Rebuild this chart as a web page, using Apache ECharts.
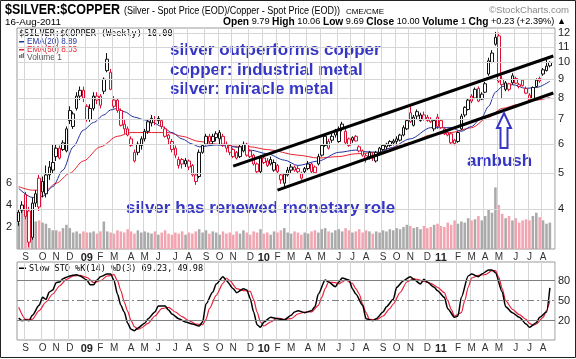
<!DOCTYPE html>
<html><head><meta charset="utf-8">
<script src="https://cdn.jsdelivr.net/npm/echarts@6/dist/echarts.min.js"></script>
<style>html,body{margin:0;padding:0;background:#fff}#c{width:576px;height:359px}</style>
</head><body><div id="c"></div><script>
// ---------- data ----------
const firstWeek = '2008-08-18';
const opens = [3.70,3.97,4.38,3.95,3.35,4.15,4.85,4.75,4.40,4.95,5.10,5.85,5.85,6.05,5.75,7.40,6.70,7.50,8.10,8.40,
7.60,7.00,7.50,8.10,8.10,8.35,9.50,9.40,7.60,7.90,7.40,6.80,6.60,6.20,5.70,5.70,5.95,6.20,6.50,6.85,
7.00,6.95,6.95,6.60,6.35,6.10,5.85,5.25,5.45,5.30,5.40,5.25,4.95,4.90,5.70,6.00,6.30,6.10,6.25,6.20,
6.30,6.00,5.95,5.80,5.70,5.55,5.75,6.00,5.75,5.60,5.30,5.05,5.50,5.40,5.45,5.10,5.25,4.80,4.70,4.95,
5.10,5.20,5.15,4.85,5.05,5.15,5.30,5.20,5.30,5.60,5.95,5.85,6.15,6.55,6.10,6.60,6.50,6.20,6.25,6.30,
5.90,5.75,5.45,5.55,5.60,5.40,5.70,5.80,5.90,5.95,6.05,6.10,6.15,6.35,6.60,7.30,6.75,7.35,6.95,7.20,
7.10,7.00,6.60,7.10,6.95,6.40,6.35,6.40,6.15,6.10,6.60,7.20,7.45,8.10,8.00,8.50,7.95,8.30,9.30,10.00,
11.20,11.80,9.00,8.45,8.75,9.20,9.05,8.60,8.95,8.50,8.15,7.95,8.60,9.05,9.55,9.50,9.79];
const highs = [4.00,4.20,4.45,4.05,4.30,4.50,4.95,4.90,5.25,5.40,6.00,6.00,5.95,6.15,6.70,7.60,7.35,8.30,8.60,8.60,
7.70,7.70,8.30,8.30,8.20,9.10,10.60,9.60,8.10,8.00,7.50,7.00,6.70,6.30,5.80,6.10,6.30,6.60,7.00,7.20,
7.15,7.15,7.00,6.70,6.40,6.20,5.95,5.55,5.50,5.50,5.45,5.30,5.00,5.80,6.00,6.40,6.40,6.40,6.50,6.55,
6.40,6.10,6.00,5.85,5.75,6.00,6.10,6.05,5.80,5.65,5.35,5.60,5.60,5.50,5.55,5.45,5.30,5.00,5.00,5.20,
5.30,5.25,5.25,5.05,5.20,5.40,5.35,5.25,5.65,6.00,6.40,6.20,6.40,6.60,6.70,6.90,6.60,6.25,6.30,6.35,
5.95,5.80,5.65,5.75,5.70,5.75,5.90,6.00,6.05,6.15,6.20,6.30,6.40,6.75,7.00,7.60,7.20,7.45,7.30,7.35,
7.20,7.10,7.00,7.25,7.00,6.65,6.50,6.45,6.20,6.50,7.25,7.60,8.00,8.20,8.55,8.60,8.30,8.85,10.30,10.80,
12.10,12.05,9.20,8.90,8.80,9.35,9.15,8.80,9.00,8.60,8.25,8.60,9.05,9.15,9.65,10.15,10.06];
const lows = [3.60,3.90,3.75,3.15,3.30,4.05,3.95,4.30,4.30,4.80,5.00,5.40,5.45,5.75,5.70,6.80,6.60,7.40,7.90,7.80,
6.90,6.90,7.40,7.70,7.50,8.20,9.40,8.40,7.50,7.30,6.70,6.40,6.30,5.90,5.35,5.60,5.80,6.10,6.40,6.70,
6.75,6.80,6.60,6.25,6.00,5.70,5.50,5.15,5.15,5.20,5.10,4.90,4.65,4.85,5.65,5.95,6.00,6.00,6.10,6.00,
5.90,5.70,5.60,5.50,5.45,5.50,5.70,5.55,5.50,5.25,5.00,5.00,5.30,5.20,5.25,5.05,5.00,4.68,4.60,4.90,
5.00,5.05,5.00,4.80,5.00,5.10,5.00,4.98,5.25,5.55,5.90,5.80,6.05,6.25,6.05,6.50,6.00,5.90,6.05,6.10,
5.70,5.55,5.35,5.45,5.40,5.35,5.60,5.75,5.80,5.90,5.95,6.00,6.10,6.30,6.55,6.85,6.70,7.00,6.90,6.95,
6.90,6.85,6.50,6.60,6.60,6.35,6.30,6.00,5.95,6.05,6.55,7.10,7.40,7.75,7.95,7.80,7.90,8.25,9.20,9.95,
11.10,8.80,7.95,8.35,8.35,8.70,8.75,8.50,8.60,8.20,7.80,7.90,8.55,8.80,9.20,9.45,9.69];
const closes = [3.92,4.10,3.82,3.25,4.15,4.40,4.05,4.45,4.95,5.20,5.35,5.55,5.50,5.80,6.60,6.95,7.25,8.10,8.40,8.00,
7.00,7.50,8.10,7.90,7.65,9.00,10.20,8.45,7.90,7.40,6.75,6.60,6.35,5.95,5.40,6.00,6.20,6.50,6.90,7.05,
6.98,7.05,6.70,6.30,6.20,5.80,5.60,5.45,5.30,5.42,5.20,4.95,4.75,5.70,5.95,6.30,6.10,6.30,6.40,6.45,
6.00,5.85,5.70,5.55,5.50,5.90,6.00,5.60,5.55,5.30,5.05,5.50,5.35,5.25,5.30,5.35,5.05,4.95,4.97,5.10,
5.20,5.10,5.05,5.00,5.15,5.30,5.05,5.02,5.55,5.95,6.30,6.10,6.30,6.35,6.60,6.80,6.05,5.95,6.15,6.12,
5.75,5.60,5.58,5.70,5.50,5.70,5.85,5.95,6.00,6.10,6.12,6.20,6.35,6.65,6.95,6.90,7.10,7.15,7.20,7.00,
6.95,6.90,6.95,6.70,6.65,6.60,6.45,6.05,6.02,6.45,7.15,7.55,7.90,7.85,8.45,7.85,8.20,8.75,10.10,10.60,
11.70,8.90,8.70,8.80,8.45,8.80,8.78,8.70,8.65,8.25,7.90,8.55,8.95,8.90,9.30,9.77,10.00];
const volumes = [2.4,3.5,3.1,2.9,2.6,2.5,2.6,2.4,2.3,1.9,1.7,
1.7,1.6,1.9,2.2,1.9,1.5,1.6,1.4,1.6,1.5,
1.5,1.6,1.4,1.6,2.5,1.6,1.5,1.4,1.7,1.6,
1.5,1.8,1.6,1.4,1.7,1.5,1.6,1.5,1.4,1.6,
1.3,1.5,1.7,1.4,1.3,1.5,1.4,1.6,1.3,1.5,
1.4,1.6,1.8,1.5,1.7,1.4,1.6,1.5,1.3,1.6,
1.4,1.5,1.3,1.6,1.4,1.7,1.5,1.3,1.6,1.5,
1.8,1.4,1.5,1.3,1.6,1.5,1.7,1.9,1.5,1.4,
1.6,1.5,1.3,1.5,1.4,1.6,1.7,1.5,1.8,1.9,
1.6,1.5,1.7,1.8,1.6,1.9,1.7,1.5,1.6,1.8,
1.5,1.7,1.6,1.4,1.6,1.5,1.7,1.6,1.8,1.7,
1.9,1.8,2.0,2.2,2.1,1.9,2.0,1.8,2.1,1.9,
2.0,2.2,2.3,2.1,2.0,2.4,2.2,2.6,2.3,2.5,
2.4,2.8,2.6,2.7,3.0,2.6,3.0,3.6,3.3,5.6,
4.0,3.2,2.8,3.0,2.6,2.8,2.4,2.6,2.7,2.6,
3.0,3.3,2.9,2.6,2.3,2.4];
const ema20Weeks = [0,4,7,10,13,16,19,22,25,27,29,31,34,37,39,42,45,48,51,53,58,63,68,73,78,82,88,94,99,102,106,109,115,121,127,130,133,136,138,140,142,145,149,152,156];
const ema20Values = [4.55,4.30,4.33,4.60,5.10,5.90,6.55,6.87,7.20,7.43,7.50,7.35,7.10,6.98,6.90,6.70,6.45,6.20,6.00,5.90,5.97,5.90,5.78,5.65,5.43,5.25,5.40,5.70,5.78,5.72,5.70,5.85,6.20,6.65,6.65,6.50,6.70,7.10,7.60,8.30,8.60,8.70,8.50,8.55,8.89];
const ema50Weeks = [0,4,8,11,15,19,24,29,33,37,41,44,48,53,58,63,68,73,82,88,94,99,106,109,115,121,127,133,138,142,147,152,156];
const ema50Values = [4.60,4.50,4.50,4.70,5.00,5.40,5.90,6.30,6.45,6.45,6.45,6.45,6.30,6.10,6.00,5.92,5.90,5.80,5.60,5.50,5.55,5.65,5.70,5.85,6.05,6.35,6.45,6.65,7.10,7.50,7.70,7.90,8.03];
const stoKWeeks = [0,1,2,3,4,6,7,8,9,10,11,12,13,14,15,17,18,20,21,22,23,24,26,27,28,29,30,31,32,33,34,35,37,38,40,41,43,44,45,47,49,51,53,54,55,57,58,60,61,63,64,66,67,68,69,70,71,72,74,76,78,80,81,82,84,86,87,88,90,91,93,94,95,97,98,99,101,102,104,105,107,108,110,111,113,115,116,118,119,120,122,123,125,126,128,129,130,132,133,135,136,138,139,140,142,143,145,147,149,150,152,153,155,156];
const stoKValues = [24,20,21,20,28,43,55,52,63,66,77,78,83,85,87,89,87,81,74,74,81,86,90,90,80,60,43,33,16,7,5,9,16,23,33,42,42,36,30,23,18,15,12,18,45,63,75,86,80,68,62,68,66,53,33,14,10,18,25,23,21,28,33,35,32,35,41,60,81,78,71,78,84,81,68,60,43,23,20,23,33,41,52,70,80,86,82,75,82,78,70,65,55,38,25,27,55,87,90,86,90,96,96,92,63,41,32,25,15,10,17,25,33,69.23];
const stoDWeeks = [0,2,4,6,8,10,12,14,16,18,20,22,24,26,28,29,30,31,32,33,34,35,36,38,40,42,44,46,48,50,52,54,55,56,58,60,61,62,64,66,68,69,70,71,72,74,76,78,80,82,84,86,88,89,90,91,93,94,95,96,98,99,100,101,102,103,105,107,109,110,112,114,116,117,119,121,123,125,126,127,128,130,131,132,133,135,137,139,140,141,142,143,145,147,149,150,151,152,154,155,156];
const stoDValues = [40,22,22,35,48,60,72,82,87,88,85,77,80,87,89,80,65,48,34,20,11,7,9,16,27,38,40,33,26,20,15,14,22,38,58,76,84,80,68,65,64,52,33,18,12,18,24,22,23,30,33,33,43,55,68,78,77,75,78,81,76,68,60,45,32,22,21,27,38,45,62,78,83,82,79,76,70,62,50,37,27,32,50,70,84,88,89,95,95,85,68,50,37,29,22,16,13,15,25,35,49.98];
const upperChannel = [[62.9, 5.23], [157, 10.41]];
const lowerChannel = [[75.6, 4.50], [157, 8.26]];
const priceTicks = [4,5,6,7,8,9,10,11,12];
const volumeTicks = [2,4,6];
const stoLevels = [80,50,20];

// ---------- build ----------
const NCAT = closes.length + 1;
const cats = [];
const t0 = Date.parse(firstWeek + 'T00:00:00Z');
for (let i = 0; i < NCAT; i++) cats.push(new Date(t0 + i * 7 * 864e5).toISOString().slice(0, 10));
const isMonthStart = (i) => i > 0 && cats[i].slice(5, 7) !== cats[i - 1].slice(5, 7);
const ML = 'JFMAMJJASOND';
const monthFmt = (v) => { const m = +v.slice(5, 7); return m === 1 ? '{y|' + v.slice(2, 4) + '}' : ML[m - 1]; };
const RED = '#dd1133', BLK = '#111';
const isUp = (i) => i === 0 ? closes[i] >= opens[i] : closes[i] >= closes[i - 1];
const candleData = closes.map((c, i) => {
  const col = isUp(i) ? BLK : RED;
  return { value: [opens[i], c, lows[i], highs[i]], itemStyle: { color: '#fff', color0: col, borderColor: col, borderColor0: col } };
});
const volData = volumes.map((v, i) => ({ value: v, itemStyle: { color: isUp(i) ? '#aaaaaa' : '#f2a5b0' } }));
const pairs = (xs, ys) => xs.map((x, i) => [x, ys[i]]);

const L = 17, R = 555, W = R - L;
const mainTop = 28, mainBot = 249;
const pxPerLn = 160;
const priceMax = 4 * Math.exp((209 - mainTop) / pxPerLn);
const priceMin = 4 * Math.exp((209 - mainBot) / pxPerLn);
const stoTop = 262, stoBot = 340;

const SANS = "'Liberation Sans',Arial,sans-serif";
const MONO = "'DejaVu Sans Mono','Liberation Mono',monospace";
const BLUE = '#3636c4';
const monthAxisLabel = {
  interval: (i) => isMonthStart(i), formatter: monthFmt, color: '#333', fontSize: 10,
  fontFamily: SANS, margin: 3,
  rich: { y: { fontWeight: 'bold', fontSize: 11, color: '#222', fontFamily: SANS } }
};
const monthSplit = { show: true, interval: (i) => isMonthStart(i), lineStyle: { color: '#d6d6d6', width: 1 } };

// text squeezed horizontally to a given width (narrow header font)
function fitText(txt, font, x, y, w, fill, rich) {
  const probe = new echarts.graphic.Text({ style: { text: txt, font: font, rich: rich } });
  const bw = probe.getBoundingRect().width || w;
  return { type: 'text', x: x, y: y, scaleX: w / bw, silent: true, style: { text: txt, font: font, fill: fill, rich: rich, verticalAlign: 'top', align: 'left' } };
}

const hLine = (v, extra) => Object.assign({ yAxis: v }, extra || {});
const option = {
  animation: false,
  backgroundColor: '#fff',
  grid: [
    { left: L, top: mainTop, width: W, height: mainBot - mainTop, show: true, borderColor: '#999', borderWidth: 1 },
    { left: L, top: stoTop, width: W, height: stoBot - stoTop, show: true, borderColor: '#999', borderWidth: 1 }
  ],
  xAxis: [
    { type: 'category', gridIndex: 0, data: cats, boundaryGap: true, axisLine: { show: false }, axisTick: { show: false }, axisLabel: monthAxisLabel, splitLine: monthSplit },
    { type: 'category', gridIndex: 1, data: cats, boundaryGap: true, axisLine: { show: false }, axisTick: { show: false }, axisLabel: monthAxisLabel, splitLine: monthSplit }
  ],
  yAxis: [
    { type: 'log', gridIndex: 0, min: priceMin, max: priceMax, position: 'right', axisLine: { show: false }, axisTick: { show: false }, axisLabel: { show: false }, splitLine: { show: false } },
    { type: 'value', gridIndex: 0, min: 0, max: (mainBot - mainTop) / 11, interval: 2, position: 'left', axisLine: { show: false }, axisTick: { show: false }, splitLine: { show: false },
      axisLabel: { margin: 5, fontSize: 11, color: '#222', fontFamily: SANS, formatter: (v) => volumeTicks.includes(v) ? String(v) : '' } },
    { type: 'value', gridIndex: 1, min: -9, max: 108, position: 'right', axisLine: { show: false }, axisTick: { show: false }, axisLabel: { show: false }, splitLine: { show: false } }
  ],
  series: [
    { type: 'line', xAxisIndex: 0, yAxisIndex: 0, data: [], silent: true, z: 1,
      markLine: { silent: true, symbol: 'none', animation: false,
        lineStyle: { color: '#d6d6d6', type: 'solid', width: 1 },
        label: { position: 'end', distance: 3, color: '#222', fontSize: 11, fontFamily: SANS, formatter: (p) => String(p.value) },
        data: priceTicks.map((v) => hLine(v)) } },
    { type: 'bar', xAxisIndex: 0, yAxisIndex: 1, data: volData, barWidth: '75%', z: 2, silent: true },
    { type: 'line', xAxisIndex: 0, yAxisIndex: 0, data: pairs(ema50Weeks, ema50Values), symbol: 'none', smooth: 0.3, smoothMonotone: 'x', lineStyle: { color: '#e8232f', width: 1 }, z: 3 },
    { type: 'line', xAxisIndex: 0, yAxisIndex: 0, data: pairs(ema20Weeks, ema20Values), symbol: 'none', smooth: 0.3, smoothMonotone: 'x', lineStyle: { color: '#2233a0', width: 1 }, z: 3 },
    { type: 'candlestick', xAxisIndex: 0, yAxisIndex: 0, data: candleData, barWidth: 3, z: 4 },
    { type: 'line', xAxisIndex: 0, yAxisIndex: 0, data: upperChannel, symbol: 'none', lineStyle: { color: '#000', width: 3 }, z: 5 },
    { type: 'line', xAxisIndex: 0, yAxisIndex: 0, data: lowerChannel, symbol: 'none', lineStyle: { color: '#000', width: 3 }, z: 5 },
    { type: 'line', xAxisIndex: 1, yAxisIndex: 2, data: [], silent: true, z: 1,
      markLine: { silent: true, symbol: 'none', animation: false,
        label: { position: 'end', distance: 3, color: '#222', fontSize: 11, fontFamily: SANS, formatter: (p) => String(p.value) },
        data: [
          hLine(stoLevels[0], { lineStyle: { color: '#808080', width: 1, type: 'solid' } }),
          hLine(stoLevels[1], { lineStyle: { color: '#808080', width: 1, type: [7, 3, 2, 3] } }),
          hLine(stoLevels[2], { lineStyle: { color: '#808080', width: 1, type: 'solid' } })
        ] } },
    { type: 'line', xAxisIndex: 1, yAxisIndex: 2, data: pairs(stoDWeeks, stoDValues), symbol: 'none', smooth: 0.25, smoothMonotone: 'x', lineStyle: { color: '#e8233c', width: 1.2 }, z: 3 },
    { type: 'line', xAxisIndex: 1, yAxisIndex: 2, data: pairs(stoKWeeks, stoKValues), symbol: 'none', smooth: 0.25, smoothMonotone: 'x', lineStyle: { color: '#000', width: 1.5 }, z: 4 }
  ],
  graphic: [
    { type: 'rect', shape: { x: 0.5, y: 0.5, width: 575, height: 357 }, style: { fill: 'none', stroke: '#222', lineWidth: 1 }, z: 100, silent: true },
    fitText('$SILVER:$COPPER', 'bold 14px ' + SANS, 5, 3, 115, '#000'),
    fitText('(Silver - Spot Price (EOD)/Copper - Spot Price (EOD))', '10px ' + SANS, 124, 6, 216, '#000'),
    fitText('CME/CME', '8px ' + SANS, 346, 8, 38, '#000'),
    fitText('©StockCharts.com', '9px ' + SANS, 489, 6, 80, '#888'),
    fitText('16-Aug-2011', '9px ' + SANS, 5, 18, 56, '#000'),
    fitText('{b|Open} 9.79 {b|High} 10.06 {b|Low} 9.69 {b|Close} 10.00 {b|Volume} 1 {b|Chg} +0.23 (+2.39%) ▲',
      '9px ' + SANS, 223, 17, 343, '#000', { b: { fontWeight: 'bold', fontSize: 10, fontFamily: SANS } }),
    { type: 'text', left: 19, top: 29, style: { text: '$SILVER:$COPPER (Weekly) 10.00', font: '8.5px ' + MONO, fill: '#000' } },
    { type: 'rect', shape: { x: 19, y: 41, width: 6, height: 1.5 }, style: { fill: '#2233a0' } },
    fitText('EMA(20) 8.89', '9px ' + SANS, 27, 37, 50, '#2233a0'),
    { type: 'rect', shape: { x: 19, y: 49, width: 6, height: 1.5 }, style: { fill: '#e8232f' } },
    fitText('EMA(50) 8.03', '9px ' + SANS, 27, 45, 50, '#e8232f'),
    { type: 'rect', shape: { x: 19, y: 55, width: 1.5, height: 3 }, style: { fill: '#777' } },
    { type: 'rect', shape: { x: 21, y: 54, width: 1.5, height: 4 }, style: { fill: '#777' } },
    { type: 'rect', shape: { x: 23, y: 53, width: 1.5, height: 5 }, style: { fill: '#777' } },
    fitText('Volume 1', '9px ' + SANS, 27, 53, 35, '#555'),
    { type: 'text', left: 170, top: 42, style: { text: 'silver outperforms copper', font: 'bold 17px ' + SANS, fill: BLUE } },
    { type: 'text', left: 170, top: 62, style: { text: 'copper: industrial metal', font: 'bold 17px ' + SANS, fill: BLUE } },
    { type: 'text', left: 170, top: 81, style: { text: 'silver: miracle metal', font: 'bold 17px ' + SANS, fill: BLUE } },
    { type: 'text', left: 126, top: 200, style: { text: 'silver has renewed monetary role', font: 'bold 17px ' + SANS, fill: BLUE } },
    { type: 'text', left: 467, top: 153, style: { text: 'ambush', font: 'bold 17px ' + SANS, fill: BLUE } },
    { type: 'polygon', shape: { points: [[504, 113], [511, 128], [507.5, 128], [507.5, 148], [500.5, 148], [500.5, 128], [497, 128]] }, style: { fill: '#fff', stroke: BLUE, lineWidth: 2 }, z: 50 },
    { type: 'rect', shape: { x: 19, y: 267.5, width: 7, height: 1.5 }, style: { fill: '#000' } },
    { type: 'text', left: 29, top: 264, style: { text: 'Slow STO %K(14) %D(3) 69.23, {r|49.98}', font: '8.5px ' + MONO, fill: '#000', rich: { r: { fontSize: 8.5, fontFamily: MONO, color: '#e8233c' } } } }
  ]
};
const chart = echarts.init(document.getElementById('c'), null, { width: 576, height: 359 });
chart.setOption(option);
</script></body></html>
